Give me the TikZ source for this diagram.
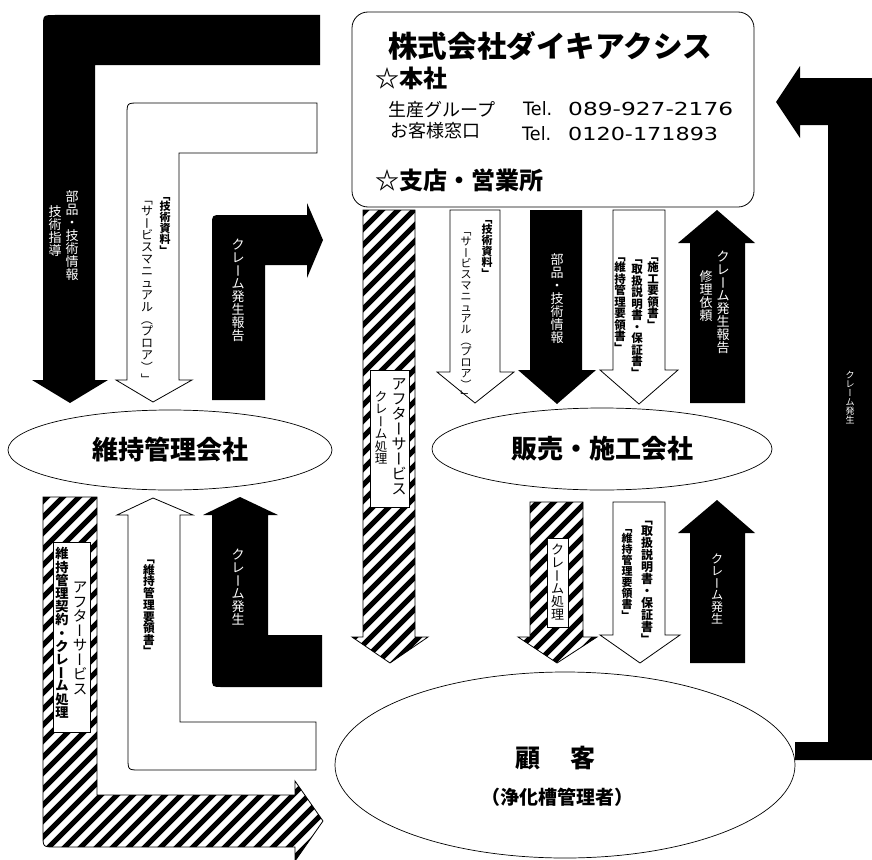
\documentclass[tikz,border=0pt]{standalone}
\usepackage{fontspec}
\usepackage{graphicx}
\setmainfont{Noto Sans CJK JP}
\newfontfamily\telfont{DejaVu Sans}
\usetikzlibrary{shapes.geometric}
\makeatletter
\def\vt@dash{ー}\def\vt@lb{「}\def\vt@rb{」}\def\vt@lp{（}\def\vt@rp{）}
\newcommand\vt@strut{\vrule width0pt height.88em depth.12em}
\newcommand\vt@box[1]{\hbox to 1em{\hss\vt@strut#1\hss}}
\newcommand\vt@rot[1]{\hbox to 1em{\hss\rotatebox[origin=c]{-90}{\hbox to 1em{\hss\vt@strut#1\hss}}\hss}}
\newcommand\vt@one{%
 \@tempswafalse
 \ifx\vt@c\vt@dash\@tempswatrue\fi
 \ifx\vt@c\vt@lb\@tempswatrue\fi
 \ifx\vt@c\vt@rb\@tempswatrue\fi
 \ifx\vt@c\vt@lp\@tempswatrue\fi
 \ifx\vt@c\vt@rp\@tempswatrue\fi
 \if@tempswa\vt@rot{\vt@c}\else\vt@box{\vt@c}\fi}
\newcommand\vtext[1]{\vbox{\offinterlineskip\@tfor\vt@c:=#1\do{\vt@one}}}
\makeatother
% \vcol[options]{name}{x}{top y}{size}{text}
\newcommand\vcol[6][]{\node[anchor=north,inner sep=0pt,#1] (#2) at (#3,#4) {\fontsize{#5}{#5}\selectfont\vtext{#6}};}
\newcommand\hatched[1]{%
  \begin{scope}
    \clip #1;
    \fill[white] (0,0) rectangle (872,870);
    \foreach \c in {0,16,...,1776} \draw[line width=5.2pt] (\c,0) -- (\c-900,900);
  \end{scope}
  \draw[line width=.8pt] #1;}
\begin{document}
\begin{tikzpicture}[x=1pt,y=-1pt,line join=miter]
\tikzset{
  ol/.style={draw=black,line width=.8pt,fill=white},
  ell/.style={draw,ellipse,line width=.7pt,fill=white,inner sep=0pt},
  tbox/.style={draw,fill=white,line width=.7pt,inner sep=0pt},
  wt/.style={text=white},
  bt/.style={font=\bfseries},
}
\useasboundingbox (0,0) rectangle (872,859);
\fill[white] (0,0) rectangle (872,859);

% ---------- upper left ----------
\fill (95,65) -- (320,65) -- (320,15) -- (55,15) .. controls (43,15) .. (43,27) -- (43,380) -- (32,380) -- (70,403) -- (108,380) -- (95,380) -- cycle;
\draw[ol] (179,153) -- (317,153) -- (317,103) -- (139,103) .. controls (127,103) .. (127,115) -- (127,380) -- (116,380) -- (153,402) -- (192,380) -- (179,380) -- cycle;
\fill (212,400) -- (212,225) .. controls (212,215) .. (222,215) -- (307,215) -- (307,203) -- (323,240) -- (307,278) -- (307,265) -- (265,265) -- (265,400) -- cycle;

\vcol[wt]{a1}{72}{190}{13}{部品・技術情報}
\vcol[wt]{a2}{55}{205}{13}{技術指導}
\vcol[bt]{b1}{165}{190}{11}{「技術資料」}
\vcol{b2}{147}{193}{12}{「サービスマニュアル（プロア）」}
\vcol[wt]{c1}{238}{238}{13}{クレーム発生報告}

% ---------- company box ----------
\node[draw,rounded corners=16pt,minimum width=402pt,minimum height=195pt,line width=.8pt] (daiki) at (553,109.5) {};
\node[anchor=west,inner sep=0pt,font=\bfseries] (title) at (388,46) {\fontsize{29.6}{29.6}\selectfont 株式会社ダイキアクシス};
\node[anchor=west,inner sep=0pt,font=\bfseries] (honsha) at (375,78) {\fontsize{24}{24}\selectfont ☆本社};
\node[anchor=west,inner sep=0pt] (seisan) at (388,110) {\fontsize{18}{18}\selectfont 生産グループ};
\node[anchor=west,inner sep=0pt] (madoguchi) at (390,131) {\fontsize{18}{18}\selectfont お客様窓口};
\node[anchor=base west,inner sep=0pt] (tel1) at (523,115) {\telfont\resizebox{29pt}{14pt}{Tel.}};
\node[anchor=base west,inner sep=0pt] (num1) at (568,115) {\telfont\resizebox{165pt}{13.3pt}{089-927-2176}};
\node[anchor=base west,inner sep=0pt] (tel2) at (522,140) {\telfont\resizebox{29pt}{14pt}{Tel.}};
\node[anchor=base west,inner sep=0pt] (num2) at (568,140) {\telfont\resizebox{150pt}{13.3pt}{0120-171893}};
\node[anchor=west,inner sep=0pt,font=\bfseries] (shiten) at (375,180) {\fontsize{24}{24}\selectfont ☆支店・営業所};

% ---------- middle hatched ----------
\hatched{(363,210) -- (415,210) -- (415,637) -- (428,637) -- (390,663) -- (352,637) -- (363,637) -- cycle}
\node[tbox,minimum width=39pt,minimum height=137pt] (boxD) at (389.5,438.5) {};
\vcol{d1}{399}{376}{15}{アフターサービス}
\vcol{d2}{381}{390}{12.5}{クレーム処理}

% ---------- upper right arrows ----------
\draw[ol] (450,210) -- (500,210) -- (500,372) -- (514,372) -- (475,403) -- (437,372) -- (450,372) -- cycle;
\fill (530,210) -- (582,210) -- (582,370) -- (596,370) -- (557,404) -- (518,370) -- (530,370) -- cycle;
\draw[ol] (613,210) -- (665,210) -- (665,370) -- (678,370) -- (639,404) -- (600,370) -- (613,370) -- cycle;
\fill (690,403) -- (690,243) -- (678,243) -- (717,210) -- (755,243) -- (745,243) -- (745,403) -- cycle;

\vcol[bt]{e1}{487}{213}{11}{「技術資料」}
\vcol{e2}{466}{225}{11}{「サービスマニュアル（プロア）」}
\vcol[wt]{f1}{557}{253}{13}{部品・技術情報}
\vcol[bt]{g1}{653}{250}{11.5}{「施工要領書」}
\vcol[bt]{g2}{637}{252}{11.5}{「取扱説明書・保証書」}
\vcol[bt]{g3}{620}{250}{11.5}{「維持管理要領書」}
\vcol[wt]{h1}{723}{250}{13}{クレーム発生報告}
\vcol[wt]{h2}{706}{270}{13}{修理依頼}

% ---------- right long arrow ----------
\fill (872,78) -- (800,78) -- (800,66) -- (776,102) -- (800,138) -- (800,125) -- (828,125) -- (828,742) -- (795,742) -- (795,760) -- (872,760) -- cycle;
\vcol[wt]{i1}{850}{370}{9}{クレーム発生}

% ---------- ellipses ----------
\node[ell,minimum width=324pt,minimum height=80pt,font=\bfseries] (ijikanri) at (170,450) {\fontsize{26}{26}\selectfont 維持管理会社};
\node[ell,minimum width=340pt,minimum height=82pt,font=\bfseries] (hanbai) at (602,449) {\fontsize{26}{26}\selectfont 販売・施工会社};
\node[ell,minimum width=460pt,minimum height=186pt] (kokyaku) at (565,765) {};
\node[font=\bfseries,inner sep=0pt] (kokyakuT) at (555,758) {\fontsize{25}{25}\selectfont 顧\hspace{30pt}客};
\node[font=\bfseries,inner sep=0pt] (kanrisha) at (557,797) {\fontsize{19}{19}\selectfont （浄化槽管理者）};

% ---------- lower right arrows ----------
\hatched{(530,502) -- (583,502) -- (583,637) -- (597,637) -- (557,663) -- (518,637) -- (530,637) -- cycle}
\node[tbox,minimum width=21pt,minimum height=89pt] (boxK) at (557.5,582.5) {};
\vcol{k1}{557.5}{543}{13}{クレーム処理}
\draw[ol] (613,502) -- (665,502) -- (665,635) -- (680,635) -- (640,663) -- (600,635) -- (613,635) -- cycle;
\vcol[bt]{l1}{647}{513}{12}{「取扱説明書・保証書」}
\vcol[bt]{l2}{627}{522}{11}{「維持管理要領書」}
\fill (690,663) -- (690,533) -- (678,533) -- (717,500) -- (755,533) -- (745,533) -- (745,663) -- cycle;
\vcol[wt]{m1}{717}{553}{12}{クレーム発生}

% ---------- lower left ----------
\hatched{(43,497) -- (97,497) -- (97,795) -- (295,795) -- (295,781) -- (323,821) -- (295,861) -- (295,847) -- (55,847) .. controls (43,847) .. (43,835) -- cycle}
\node[tbox,minimum width=37pt,minimum height=190pt] (boxN) at (71.5,637) {};
\vcol{n1}{80}{580}{14.5}{アフターサービス}
\vcol[bt]{n2}{62}{547}{13.2}{維持管理契約・クレーム処理}
\draw[ol] (180,722) -- (180,515) -- (193,515) -- (153,498) -- (117,515) -- (128,515) -- (128,758) .. controls (128,770) .. (140,770) -- (316,770) -- (316,722) -- cycle;
\vcol[bt]{o1}{149}{552}{11.7}{「維持管理要領書」}
\fill (268,635) -- (268,515) -- (278,515) -- (240,497) -- (203,515) -- (212,515) -- (212,677) .. controls (212,687) .. (222,687) -- (322,687) -- (322,635) -- cycle;
\vcol[wt]{p1}{238}{548}{13}{クレーム発生}
\end{tikzpicture}
\end{document}
